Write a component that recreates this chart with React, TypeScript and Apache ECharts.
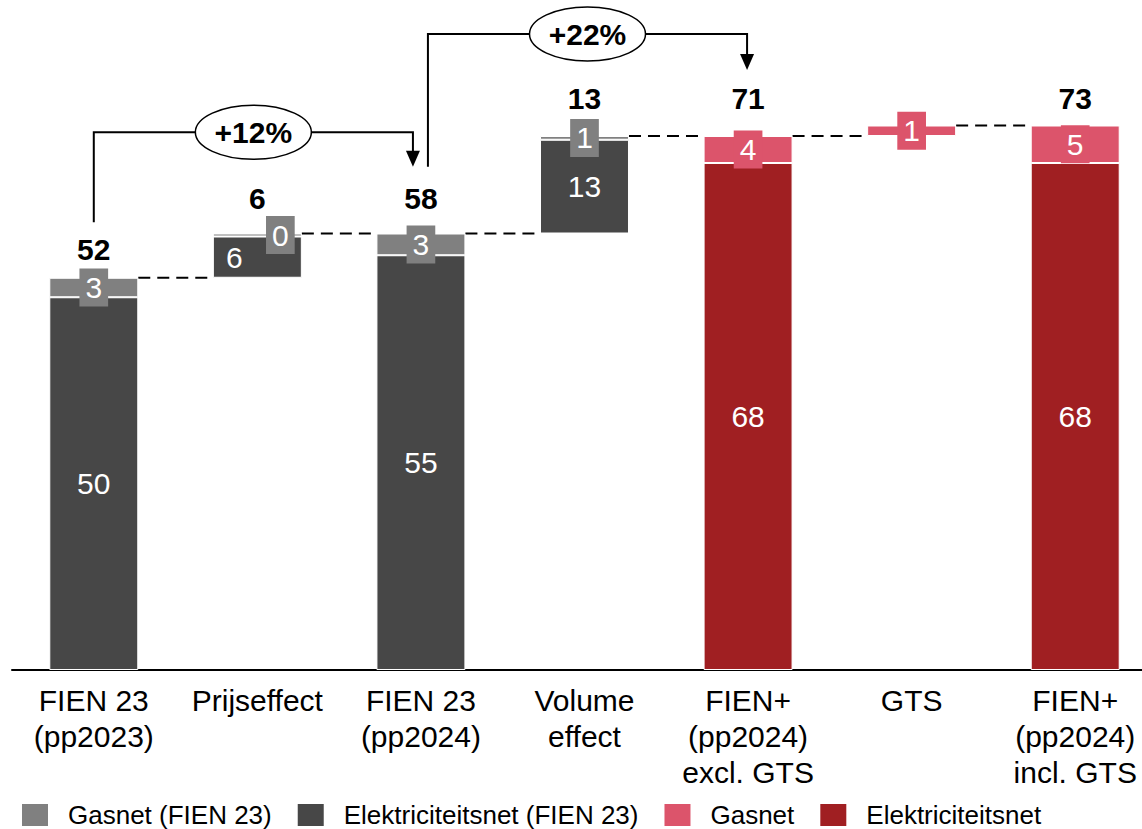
import React, { useEffect, useRef } from 'react';
import * as echarts from 'echarts';

// ---------- data ----------
const categories = [
  'FIEN 23\n(pp2023)',
  'Prijseffect',
  'FIEN 23\n(pp2024)',
  'Volume\neffect',
  'FIEN+\n(pp2024)\nexcl. GTS',
  'GTS',
  'FIEN+\n(pp2024)\nincl. GTS',
];
const barKind = ['total', 'delta', 'total', 'delta', 'total', 'delta', 'total'];
const elecOld: (number | null)[] = [49.7, 5.5, 55.3, 12.5, null, null, null];
const gasOld: (number | null)[] = [2.6, 0.4, 2.9, 0.5, null, null, null];
const elecNew: (number | null)[] = [null, null, null, null, 67.6, null, 67.6];
const gasNew: (number | null)[] = [null, null, null, null, 3.6, 1.4, 5.0];
const showTotal = [true, true, true, true, true, false, true];
const growthLabels = ['+12%', '+22%'];
const growthFrom = [0, 2];
const growthTo = [2, 4];
const legendNames = ['Gasnet (FIEN 23)', 'Elektriciteitsnet (FIEN 23)', 'Gasnet', 'Elektriciteitsnet'];

// ---------- styles / layout ----------
const FONT = '"Liberation Sans", Arial, Helvetica, sans-serif';
const C_GAS_OLD = '#808080';
const C_ELEC_OLD = '#474747';
const C_GAS_NEW = '#DC546B';
const C_ELEC_NEW = '#A01F22';
const labelShift = [0, 23, 0, 0, 0, 0, 0];
const totalLift = [13, 20, 20, 22, 22, 0, 12];
// bracket geometry (value units for levels, px for x shifts)
const bracketStart = [59.7, 67.1];
const bracketBar = [71.7, 84.8];
const bracketTip = [67.1, 80.0];
const bracketFromDx = [0, 7];
const bracketToDx = [-8, -1];

const v = (x: number | null) => (x == null ? 0 : x);
const sums = categories.map((_, i) => v(elecOld[i]) + v(gasOld[i]) + v(elecNew[i]) + v(gasNew[i]));
const bases: number[] = [];
const ends: number[] = [];
{
  let level = 0;
  categories.forEach((_, i) => {
    const b = barKind[i] === 'delta' ? level : 0;
    bases.push(b);
    ends.push(b + sums[i]);
    level = b + sums[i];
  });
}

const toSeriesData = (arr: (number | null)[]) => arr.map((x) => (x == null ? '-' : x));

export default function App() {
  const ref = useRef<HTMLDivElement>(null);
  useEffect(() => {
    if (!ref.current) return;
    const chart = echarts.init(ref.current, undefined, { renderer: 'svg' });

    const segLabel = (bg: string | null) => ({
      show: true,
      position: 'inside',
      color: '#fff',
      fontSize: 30,
      fontFamily: FONT,
      lineHeight: 32,
      backgroundColor: bg || 'transparent',
      padding: bg ? [3, 6] : 0,
      formatter: (p: any) => String(Math.round(p.value)),
    });

    const withShift = (arr: (number | null)[], dir: number) =>
      arr.map((x, i) =>
        x == null
          ? '-'
          : labelShift[i]
          ? { value: x, label: { offset: [dir * labelShift[i], 0] } }
          : x
      );

    const option: any = {
      animation: false,
      textStyle: { fontFamily: FONT },
      grid: { left: 12, width: 1145, top: 70, height: 600, containLabel: false },
      legend: {
        data: legendNames,
        left: 20,
        top: 802,
        padding: 0,
        icon: 'rect',
        itemWidth: 28,
        itemHeight: 24,
        itemGap: 24,
        selectedMode: false,
        textStyle: { fontSize: 26, color: '#000', fontFamily: FONT, padding: [0, 0, 0, 14] },
      },
      xAxis: {
        type: 'category',
        data: categories,
        axisLine: { lineStyle: { color: '#000', width: 2 } },
        axisTick: { show: false },
        axisLabel: {
          interval: 0,
          fontSize: 30,
          lineHeight: 36,
          color: '#000',
          margin: 12,
          fontFamily: FONT,
        },
      },
      yAxis: { type: 'value', min: 0, max: 80, show: false, splitLine: { show: false } },
      series: [
        {
          name: 'base',
          type: 'bar',
          stack: 'w',
          barWidth: '54.4%',
          silent: true,
          itemStyle: { color: 'rgba(0,0,0,0)' },
          data: bases.map((b, i) => (barKind[i] === 'delta' ? b : '-')),
        },
        {
          name: 'Elektriciteitsnet (FIEN 23)',
          type: 'bar',
          stack: 'w',
          barWidth: '54.4%',
          itemStyle: { color: C_ELEC_OLD, borderColor: '#fff', borderWidth: 1 },
          label: segLabel(null),
          data: withShift(elecOld, -1),
        },
        {
          name: 'Gasnet (FIEN 23)',
          type: 'bar',
          stack: 'w',
          barWidth: '54.4%',
          itemStyle: { color: C_GAS_OLD, borderColor: '#fff', borderWidth: 1 },
          label: segLabel(C_GAS_OLD),
          data: withShift(gasOld, 1),
        },
        {
          name: 'Elektriciteitsnet',
          type: 'bar',
          stack: 'w',
          barWidth: '54.4%',
          itemStyle: { color: C_ELEC_NEW, borderColor: '#fff', borderWidth: 1 },
          label: segLabel(null),
          data: toSeriesData(elecNew),
        },
        {
          name: 'Gasnet',
          type: 'bar',
          stack: 'w',
          barWidth: '54.4%',
          itemStyle: { color: C_GAS_NEW, borderColor: '#fff', borderWidth: 1 },
          label: segLabel(C_GAS_NEW),
          data: toSeriesData(gasNew),
        },
        {
          name: 'totals',
          type: 'scatter',
          symbolSize: 1,
          silent: true,
          z: 5,
          itemStyle: { color: 'rgba(0,0,0,0)' },
          data: categories.map((_, i) =>
            showTotal[i]
              ? {
                  value: [i, ends[i]],
                  label: {
                    show: true,
                    position: 'top',
                    distance: totalLift[i],
                    formatter: String(Math.round(sums[i])),
                    fontSize: 30,
                    fontWeight: 'bold',
                    color: '#000',
                    textBorderWidth: 0,
                    opacity: 1,
                    fontFamily: FONT,
                  },
                }
              : { value: [i, '-'] }
          ),
        },
        {
          name: 'connectors',
          type: 'custom',
          silent: true,
          z: 1,
          renderItem: (params: any, api: any) => {
            const i = api.value(0);
            const lvl = api.value(1);
            const p0 = api.coord([i, lvl]);
            const p1 = api.coord([i + 1, lvl]);
            const bw = api.size([1, 0])[0] * 0.544;
            return {
              type: 'line',
              shape: { x1: p0[0] + bw / 2, y1: p0[1], x2: p1[0] - bw / 2, y2: p1[1] },
              style: { stroke: '#000', lineWidth: 2, lineDash: [12, 7] },
            };
          },
          data: categories.slice(0, -1).map((_, i) => [i, ends[i]]),
        },
      ],
    };
    chart.setOption(option);

    const px = (x: number, y: number) => chart.convertToPixel({ gridIndex: 0 }, [x, y]) as number[];
    const graphics: any[] = [];
    growthLabels.forEach((txt, k) => {
      const a = px(growthFrom[k], bracketStart[k]);
      const xa = a[0] + bracketFromDx[k];
      const ya = a[1];
      const yBar = px(growthFrom[k], bracketBar[k])[1];
      const b = px(growthTo[k], bracketTip[k]);
      const xb = b[0] + bracketToDx[k];
      const yTip = b[1];
      graphics.push({
        type: 'polyline',
        z: 100,
        shape: { points: [[xa, ya], [xa, yBar], [xb, yBar], [xb, yTip - 14]] },
        style: { stroke: '#000', lineWidth: 2, fill: null },
      });
      graphics.push({
        type: 'polygon',
        z: 100,
        shape: { points: [[xb - 7, yTip - 16], [xb + 7, yTip - 16], [xb, yTip]] },
        style: { fill: '#000' },
      });
      graphics.push({
        type: 'ellipse',
        z: 101,
        shape: { cx: (xa + xb) / 2, cy: yBar, rx: 58, ry: 27 },
        style: { fill: '#fff', stroke: '#000', lineWidth: 1.5 },
      });
      graphics.push({
        type: 'text',
        z: 102,
        x: (xa + xb) / 2,
        y: yBar,
        style: {
          text: txt,
          fontSize: 30,
          fontWeight: 'bold',
          fontFamily: FONT,
          fill: '#000',
          align: 'center',
          verticalAlign: 'middle',
        },
      });
    });
    chart.setOption({ graphic: graphics });

    return () => chart.dispose();
  }, []);

  return (
    <div
      style={{
        position: 'absolute',
        left: 0,
        top: 0,
        width: 1142,
        height: 829,
        overflow: 'hidden',
        background: '#fff',
      }}
    >
      <div ref={ref} style={{ width: 1165, height: 829 }} />
    </div>
  );
}
